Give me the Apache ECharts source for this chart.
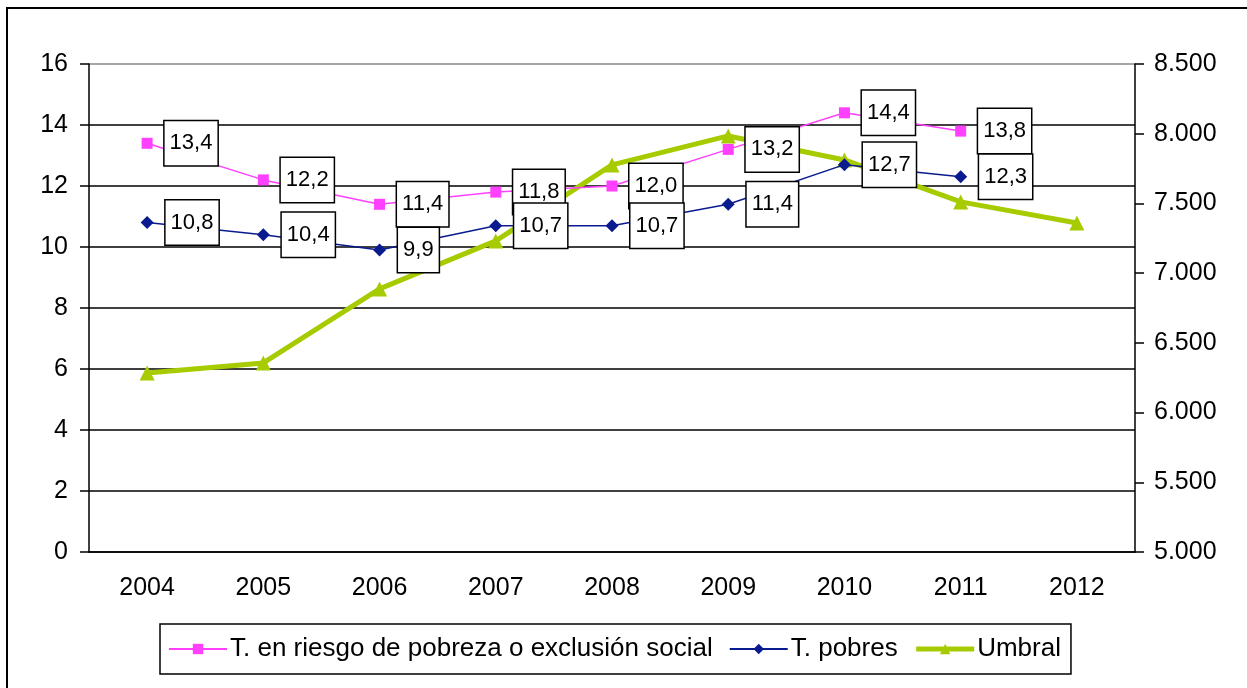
<!DOCTYPE html>
<html>
<head>
<meta charset="utf-8">
<script src="https://cdn.jsdelivr.net/npm/echarts@6/dist/echarts.min.js"></script>
<style>
  html, body { margin: 0; padding: 0; background: #fff; }
  #chart { width: 1247px; height: 688px; }
</style>
</head>
<body>
<div id="chart"></div>
<script>
// 年份
let years = ['2004', '2005', '2006', '2007', '2008', '2009', '2010', '2011', '2012']
// 左轴：两个比率
let riesgo = [13.4, 12.2, 11.4, 11.8, 12.0, 13.2, 14.4, 13.8, null]
let pobres = [10.8, 10.4, 9.9, 10.7, 10.7, 11.4, 12.7, 12.3, null]
// 右轴：umbral
let umbral = [6284, 6356, 6887, 7231, 7776, 7984, 7812, 7511, 7360]

let seriesNames = ['T. en riesgo de pobreza o exclusión social', 'T. pobres', 'Umbral']
let colors = ['#ff40ff', '#0a1a8f', '#a6cc00']

let font = 'Liberation Sans, Arial, sans-serif'

let myChart = echarts.init(document.getElementById('chart'))

// 数据标签：白底黑框
let boxLabel = {
  show: true,
  position: 'right',
  distance: 12,
  fontFamily: font,
  fontSize: 22,
  color: '#000',
  backgroundColor: '#fff',
  borderColor: '#000',
  borderWidth: 1.5,
  padding: [12, 5, 10, 5],
  formatter: p => p.value == null ? '' : p.value.toFixed(1).replace('.', ',')
}

let option = {
  animation: false,
  backgroundColor: '#fff',
  graphic: [{
    type: 'rect',
    shape: { x: 7, y: 8, width: 1260, height: 700 },
    style: { fill: 'none', stroke: '#000', lineWidth: 2 }
  }],
  grid: { left: 89, right: 112, top: 64, bottom: 136 },
  legend: {
    data: [
      { name: seriesNames[0] },
      { name: seriesNames[1] },
      { name: seriesNames[2], lineStyle: { width: 5 } }
    ],
    left: 160,
    top: 624,
    height: 48,
    padding: [12, 10, 12, 8],
    borderColor: '#000',
    borderWidth: 1.5,
    itemWidth: 58,
    itemHeight: 13,
    itemGap: 16,
    textStyle: { fontFamily: font, fontSize: 26, color: '#000', padding: [0, 0, 0, -2] }
  },
  xAxis: {
    type: 'category',
    data: years,
    boundaryGap: true,
    axisLine: { lineStyle: { color: '#000', width: 1.5 } },
    axisTick: { interval: 0, length: 9, lineStyle: { color: '#000', width: 1.5 } },
    axisLabel: { fontFamily: font, fontSize: 25, color: '#000', margin: 24 }
  },
  yAxis: [{
    type: 'value',
    min: 0, max: 16, interval: 2,
    axisLine: { show: true, lineStyle: { color: '#000', width: 1.5 } },
    axisTick: { show: true, length: 9, lineStyle: { color: '#000', width: 1.5 } },
    axisLabel: { fontFamily: font, fontSize: 25, color: '#000', margin: 21 },
    splitLine: {
      show: true,
      lineStyle: {
        color: ['#000', '#000', '#000', '#000', '#000', '#000', '#000', '#000', '#888'],
        width: 1.5
      }
    }
  }, {
    type: 'value',
    min: 5000, max: 8500, interval: 500,
    position: 'right',
    axisLine: { show: true, lineStyle: { color: '#000', width: 1.5 } },
    axisTick: { show: true, length: 9, lineStyle: { color: '#000', width: 1.5 } },
    axisLabel: {
      fontFamily: font, fontSize: 25, color: '#000', margin: 19,
      formatter: v => Math.floor(v / 1000) + '.' + String(v % 1000).padStart(3, '0')
    },
    splitLine: { show: false }
  }],
  series: [{
    name: seriesNames[0],
    type: 'line',
    data: riesgo,
    yAxisIndex: 0,
    symbol: 'rect',
    symbolSize: 11,
    color: colors[0],
    lineStyle: { width: 1.5, color: colors[0] },
    itemStyle: { color: colors[0] },
    label: boxLabel,
    z: 3
  }, {
    name: seriesNames[1],
    type: 'line',
    data: pobres,
    yAxisIndex: 0,
    symbol: 'diamond',
    symbolSize: 13,
    color: colors[1],
    lineStyle: { width: 1.5, color: colors[1] },
    itemStyle: { color: colors[1] },
    label: boxLabel,
    z: 3
  }, {
    name: seriesNames[2],
    type: 'line',
    data: umbral,
    yAxisIndex: 1,
    symbol: 'triangle',
    symbolSize: 15,
    color: colors[2],
    lineStyle: { width: 5, color: colors[2] },
    itemStyle: { color: colors[2] },
    z: 2
  }]
}

myChart.setOption(option)
</script>
</body>
</html>
